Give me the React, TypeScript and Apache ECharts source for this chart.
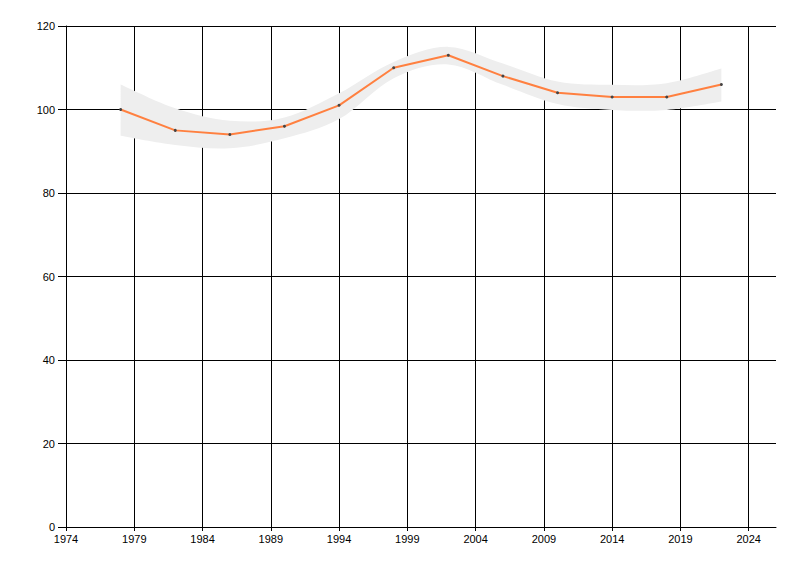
import React, { useEffect, useRef } from "react";
import * as echarts from "echarts";

const years = [1978, 1982, 1986, 1990, 1994, 1998, 2002, 2006, 2010, 2014, 2018, 2022];
const values = [100, 95, 94, 96, 101, 110, 113, 108, 104, 103, 103, 106];
const upper = [106, 100.3, 97.3, 98.1, 103.9, 111.4, 115, 111, 106.7, 105.9, 106.3, 109.8];
const lower = [93.7, 91.5, 90.7, 93.1, 97.7, 107.5, 110.8, 105.9, 101.3, 99.9, 99.9, 101.9];
const xTicks = [1974, 1979, 1984, 1989, 1994, 1999, 2004, 2009, 2014, 2019, 2024];

const FONT = "'Liberation Sans', Arial, sans-serif";

type Pt = number[];

function splinePath(pts: Pt[], move: boolean): string {
  let d = move ? `M${pts[0][0]},${pts[0][1]}` : `L${pts[0][0]},${pts[0][1]}`;
  for (let i = 0; i < pts.length - 1; i++) {
    const p0 = pts[Math.max(0, i - 1)];
    const p1 = pts[i];
    const p2 = pts[i + 1];
    const p3 = pts[Math.min(pts.length - 1, i + 2)];
    const c1x = p1[0] + (p2[0] - p0[0]) / 6;
    const c1y = p1[1] + (p2[1] - p0[1]) / 6;
    const c2x = p2[0] - (p3[0] - p1[0]) / 6;
    const c2y = p2[1] - (p3[1] - p1[1]) / 6;
    d += ` C${c1x},${c1y} ${c2x},${c2y} ${p2[0]},${p2[1]}`;
  }
  return d;
}

export default function App() {
  const ref = useRef<HTMLDivElement>(null);
  useEffect(() => {
    if (!ref.current) return;
    const chart = echarts.init(ref.current, undefined, { renderer: "svg" });
    const splitColors = xTicks.map(() => "#000").concat(["rgba(0,0,0,0)"]);
    chart.setOption({
      animation: false,
      grid: { left: 58, right: 16, top: 18, bottom: 41, containLabel: false },
      xAxis: {
        type: "value",
        min: 1974,
        max: 2026,
        interval: 5,
        axisLine: { show: true, onZero: false, lineStyle: { color: "#000", width: 1 } },
        axisTick: { show: true, length: 4, customValues: xTicks, lineStyle: { color: "#000" } },
        axisLabel: {
          customValues: xTicks,
          color: "#000",
          fontFamily: FONT,
          fontSize: 11,
          margin: 6,
          formatter: (v: number) => String(v),
        },
        splitLine: { show: true, lineStyle: { color: splitColors, width: 1 } },
      },
      yAxis: {
        type: "value",
        min: 0,
        max: 120,
        interval: 20,
        axisLine: { show: true, lineStyle: { color: "#000", width: 1 } },
        axisTick: { show: true, length: 8, lineStyle: { color: "#000" } },
        axisLabel: { color: "#000", fontFamily: FONT, fontSize: 11, margin: 11 },
        splitLine: { show: true, lineStyle: { color: "#000", width: 1 } },
      },
      series: [
        {
          type: "custom",
          name: "band",
          coordinateSystem: "cartesian2d",
          silent: true,
          z: 1,
          data: years.map((y, i) => [y, lower[i], upper[i]]),
          encode: { x: 0, y: [1, 2] },
          renderItem: (params: any, api: any) => {
            if (params.dataIndex !== 0) return null;
            const up = years.map((y, i) => api.coord([y, upper[i]]));
            const lo = years.map((y, i) => api.coord([y, lower[i]])).reverse();
            const d = splinePath(up, true) + " " + splinePath(lo, false) + " Z";
            return {
              type: "path",
              shape: { pathData: d },
              style: { fill: "#eeeeee", stroke: "none" },
            };
          },
        },
        {
          type: "line",
          name: "value",
          data: years.map((y, i) => [y, values[i]]),
          symbol: "circle",
          symbolSize: 3,
          showSymbol: true,
          itemStyle: { color: "#444444", borderWidth: 0 },
          lineStyle: { color: "#ff8040", width: 2 },
          z: 3,
        },
      ],
    });
    return () => chart.dispose();
  }, []);
  return <div ref={ref} style={{ width: 784, height: 560 }} />;
}
